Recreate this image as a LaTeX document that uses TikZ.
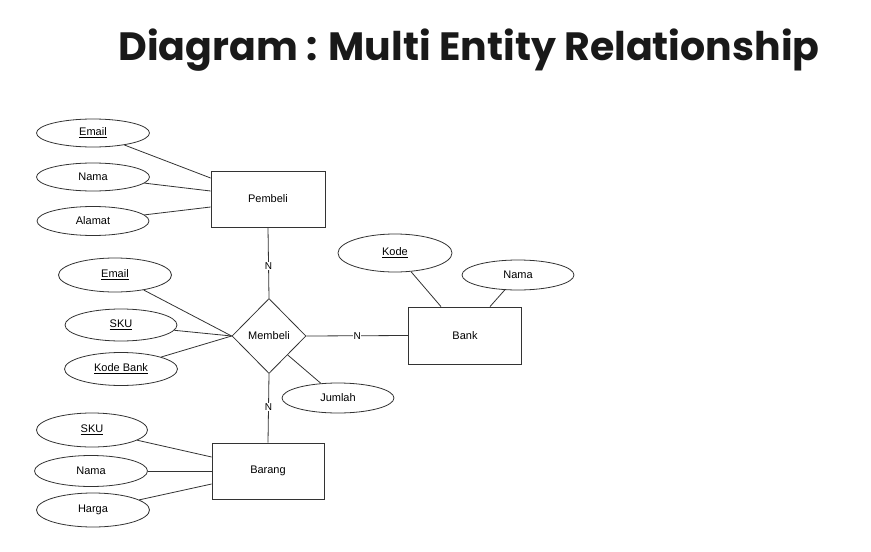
\documentclass[tikz,border=0pt]{standalone}
\usepackage{fontspec}
\setmainfont{Liberation Sans}
\newfontfamily\titlefont{Poppins}[Ligatures=NoCommon]
\usetikzlibrary{shapes.geometric}
\definecolor{ln}{HTML}{333333}
\tikzset{
  attr/.style={ellipse, draw=ln, line width=0.8pt, inner sep=0pt, minimum width=113pt, minimum height=30pt, font=\fontsize{11}{13}\selectfont},
  entity/.style={rectangle, draw=ln, line width=0.8pt, minimum width=114pt, minimum height=56pt, font=\fontsize{11}{13}\selectfont},
  rel/.style={diamond, draw=ln, line width=0.8pt, aspect=1, inner sep=0pt, minimum width=74pt, minimum height=75pt, font=\fontsize{11}{13}\selectfont},
  conn/.style={draw=ln, line width=0.8pt},
  card/.style={fill=white, inner sep=0.5pt, font=\fontsize{10}{12}\selectfont}
}
\begin{document}
\begin{tikzpicture}[x=1pt, y=-1pt]
\useasboundingbox (0,0) rectangle (871,552);
\node[font=\titlefont\fontseries{sb}\selectfont\fontsize{39.5}{45}\selectfont, text=black!90] (title) at (469,50) {Diagram : Multi Entity Relationship};

% entities
\node[entity] (pembeli) at (268,199) {Pembeli};
\node[entity, minimum width=113pt, minimum height=57pt] (bank) at (465,335.5) {Bank};
\node[entity, minimum width=112pt] (barang) at (268,471) {Barang};
\node[rel] (membeli) at (269,336) {Membeli};

% Pembeli attributes
\node[attr, minimum height=28pt] (pemail) at (93,133) {\underline{Email}};
\node[attr, minimum height=28pt] (pnama) at (93,177) {Nama};
\node[attr, minimum width=112pt, minimum height=29pt] (palamat) at (93,221) {Alamat};

% Membeli attributes
\node[attr, minimum height=34pt] (memail) at (115,275) {\underline{Email}};
\node[attr, minimum width=112pt, minimum height=32pt] (msku) at (121,325) {\underline{SKU}};
\node[attr, minimum height=33pt] (mkode) at (121,369) {\underline{Kode Bank}};
\node[attr, minimum width=112pt] (mjumlah) at (338,398) {Jumlah};

% Bank attributes
\node[attr, minimum width=114pt, minimum height=38pt] (bkode) at (395,253) {\underline{Kode}};
\node[attr, minimum width=112pt] (bnama) at (518,275) {Nama};

% Barang attributes
\node[attr, minimum width=111pt, minimum height=34pt] (bsku) at (92,430) {\underline{SKU}};
\node[attr, minimum height=31pt] (bgnama) at (91,471) {Nama};
\node[attr, minimum height=34pt] (bharga) at (93,510) {Harga};

% connectors
\draw[conn] (pemail) -- ([yshift=21pt]pembeli.west);
\draw[conn] (pnama) -- ([yshift=8pt]pembeli.west);
\draw[conn] (palamat) -- ([yshift=-8pt]pembeli.west);

\draw[conn] (memail) -- (membeli.west);
\draw[conn] (msku) -- (membeli.west);
\draw[conn] (mkode) -- (membeli.west);
\draw[conn] (membeli.south east) -- (mjumlah);

\draw[conn] (bkode) -- ([xshift=-24pt]bank.north);
\draw[conn] (bnama) -- ([xshift=25pt]bank.north);

\draw[conn] (bsku) -- ([yshift=14pt]barang.west);
\draw[conn] (bgnama) -- (barang.west);
\draw[conn] (bharga) -- ([yshift=-13pt]barang.west);

\draw[conn] (pembeli.south) -- node[card, pos=0.54] (n1) {N} (membeli.north);
\draw[conn] (membeli.east) -- node[card, pos=0.5] (n2) {N} (bank.west);
\draw[conn] (membeli.south) -- node[card, pos=0.48] (n3) {N} (barang.north);
\end{tikzpicture}
\end{document}
